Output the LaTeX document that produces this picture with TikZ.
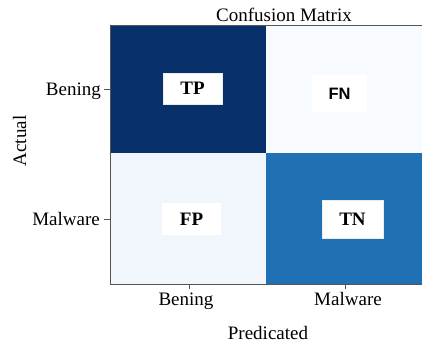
\documentclass[tikz,border=0pt]{standalone}
\usepackage{fontspec}
\setmainfont{Liberation Serif}
\newfontfamily\labsans{Liberation Sans}
\definecolor{bdark}{HTML}{08306B}
\definecolor{blight}{HTML}{F7FBFF}
\definecolor{blight2}{HTML}{F0F6FC}
\definecolor{bmid}{HTML}{2070B4}
\definecolor{framegray}{HTML}{555555}
\begin{document}
\begin{tikzpicture}[x=1pt,y=-1pt,
  cell/.style={draw=none,minimum width=156pt,inner sep=0pt},
  tag/.style={fill=white,draw=black!8,line width=0.6pt,inner sep=0pt,font=\fontsize{19}{19}\selectfont\bfseries},
  lab/.style={font=\fontsize{19}{19}\selectfont,inner sep=0pt},
  tick/.style={draw=framegray,line width=0.8pt}]
\useasboundingbox (0,0) rectangle (422,347);
% cells
\node[cell,fill=bdark,minimum height=128pt,anchor=north west] (c11) at (110,25) {};
\node[cell,fill=blight,minimum height=128pt,anchor=north west] (c12) at (266,25) {};
\node[cell,fill=blight2,minimum height=131pt,anchor=north west] (c21) at (110,153) {};
\node[cell,fill=bmid,minimum height=131pt,anchor=north west] (c22) at (266,153) {};
% frame
\draw[framegray,line width=0.9pt] (422,25) -- (110,25) -- (110,284) -- (422,284);
% tags
\node[tag,minimum width=59pt,minimum height=31pt] (tp) at (192.5,88.5) {TP};
\node[tag,draw=none,minimum width=55pt,minimum height=37pt,font=\labsans\fontsize{16.5}{16.5}\selectfont\bfseries] (fn) at (339.5,93.5) {FN};
\node[tag,draw=none,minimum width=59pt,minimum height=32pt] (fp) at (191.5,219) {FP};
\node[tag,minimum width=61pt,minimum height=38pt] (tn) at (352.5,219) {TN};
% ticks
\coordinate (ty1) at (110,89); \coordinate (ty1a) at (104,89);
\coordinate (ty2) at (110,219); \coordinate (ty2a) at (104,219);
\coordinate (tx1) at (189,284); \coordinate (tx1a) at (189,289);
\coordinate (tx2) at (345,284); \coordinate (tx2a) at (345,289);
\draw[tick] (ty1) -- (ty1a);
\draw[tick] (ty2) -- (ty2a);
\draw[tick] (tx1) -- (tx1a);
\draw[tick] (tx2) -- (tx2a);
% labels
\node[lab,anchor=base east] (yb) at (101,96) {Bening};
\node[lab,anchor=base east] (ym) at (100,225) {Malware};
\node[lab,anchor=base] (xb) at (186,305) {Bening};
\node[lab,anchor=base] (xm) at (348,305) {Malware};
\node[lab,anchor=base] (xl) at (268,339) {Predicated};
\node[lab,anchor=base,rotate=90] (yl) at (26,141) {Actual};
\node[lab,anchor=base] (tt) at (284,22) {Confusion Matrix};
\end{tikzpicture}
\end{document}
